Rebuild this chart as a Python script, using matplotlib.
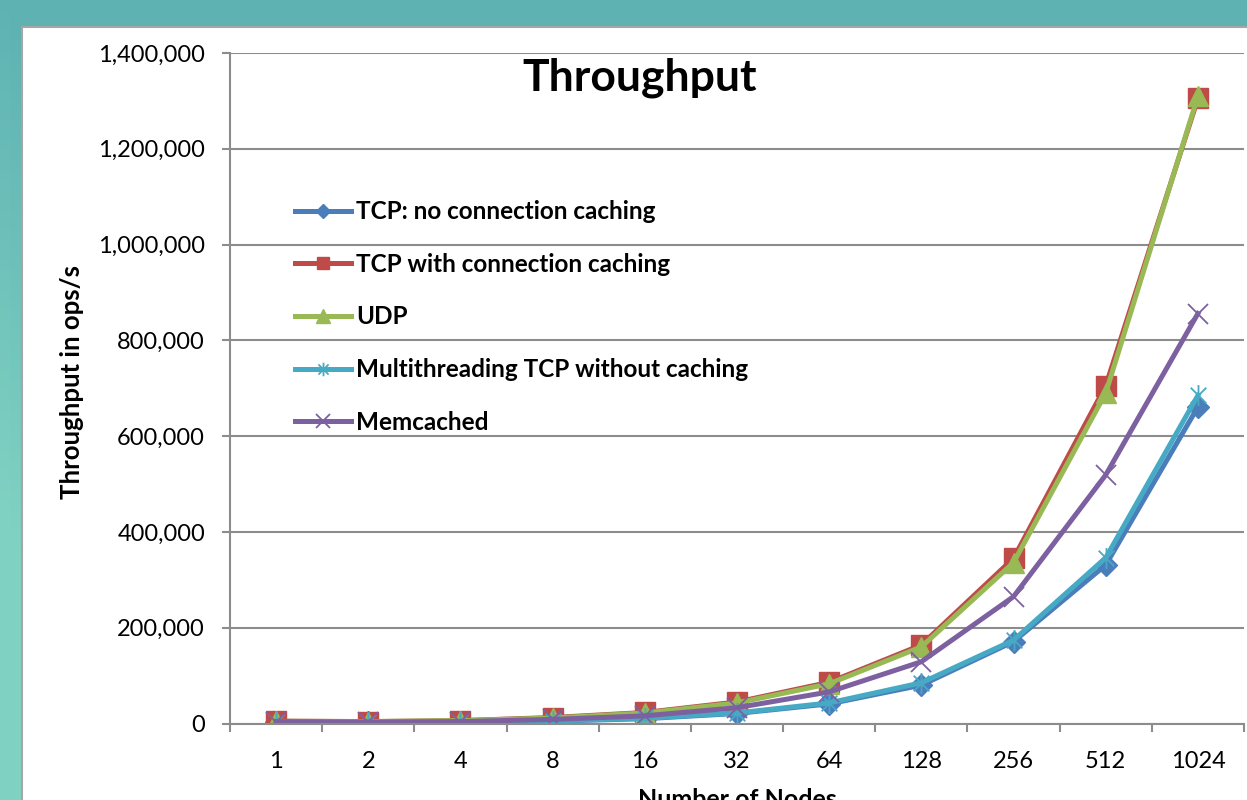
import numpy as np
import matplotlib.pyplot as plt
from matplotlib.path import Path
from matplotlib.patches import Rectangle

plt.rcParams["font.family"] = ["Lato", "DejaVu Sans"]

# Throughput per cluster size (ops/s)
nodes = ["1", "2", "4", "8", "16", "32", "64", "128", "256", "512", "1024"]
tcp_no_cache = [3000, 2500, 3000, 5000, 10000, 21000, 41000, 80000, 171000, 331000, 661000]
tcp_cache = [5000, 4000, 6000, 12500, 23000, 45000, 86000, 164000, 345000, 705000, 1305000]
udp = [4500, 4000, 6000, 11500, 22000, 43000, 83000, 160000, 336000, 690000, 1310000]
mt_tcp = [3500, 2500, 3000, 5500, 11000, 22000, 43000, 85000, 174000, 346000, 685000]
memcached = [4000, 3000, 4000, 8500, 16000, 33000, 66000, 129000, 265000, 519000, 856000]

labels = ["TCP: no connection caching", "TCP with connection caching", "UDP",
          "Multithreading TCP without caching", "Memcached"]

# asterisk: vertical bar plus an X
star = Path([(0, -1), (0, 1), (-0.75, -0.75), (0.75, 0.75), (-0.75, 0.75), (0.75, -0.75)],
            [Path.MOVETO, Path.LINETO, Path.MOVETO, Path.LINETO, Path.MOVETO, Path.LINETO])

fig = plt.figure(figsize=(12.47, 8.0), dpi=100)

# teal slide background
bg = fig.add_axes([0, 0, 1, 1], zorder=-10)
yy, xx = np.mgrid[0:80, 0:125]
base = np.array([0.37, 0.70, 0.70])
light = np.array([0.50, 0.82, 0.76])
w = np.clip((yy / 80.0) * 1.6 - (xx / 125.0) * 6, 0, 1)[..., None]
bg.imshow(base * (1 - w) + light * w, aspect="auto", extent=[0, 1, 0, 1], origin="upper")
bg.set_axis_off()

# white chart panel
fig.patches.append(Rectangle((22 / 1247, -0.01), 1.0, 1 - 27 / 800 + 0.01,
                             transform=fig.transFigure, facecolor="white",
                             edgecolor="#a6a6a6", linewidth=1.5, zorder=-5))

ax = fig.add_axes([230 / 1247, 1 - 723.5 / 800, 1014 / 1247, 670.5 / 800])
ax.set_facecolor("none")
x = np.arange(len(nodes))

ax.plot(x, tcp_no_cache, color="#4a7ebb", lw=3.6, marker="D", ms=11,
        mfc="#4a7ebb", mec="#4a7ebb", label=labels[0])
ax.plot(x, tcp_cache, color="#be4b48", lw=3.6, marker="s", ms=14,
        mfc="#be4b48", mec="#be4b48", label=labels[1])
ax.plot(x, udp, color="#98b954", lw=3.6, marker="^", ms=15,
        mfc="#98b954", mec="#98b954", label=labels[2])
ax.plot(x, mt_tcp, color="#46aac5", lw=3.6, marker=star, ms=15,
        mew=1.3, mec="#46aac5", label=labels[3])
ax.plot(x, memcached, color="#7d60a0", lw=3.6, marker="x", ms=15,
        mew=1.3, mec="#7d60a0", label=labels[4])

ax.set_xlim(-0.5, len(nodes) - 0.5)
ax.set_ylim(0, 1400000)
ax.set_yticks(np.arange(0, 1400001, 200000))
ax.yaxis.set_major_formatter(plt.FuncFormatter(lambda v, p: f"{int(v):,}"))
ax.set_xticks(x)
ax.set_xticklabels(nodes)
ax.set_xticks(np.arange(-0.5, len(nodes)), minor=True)

ax.grid(axis="y", color="#8c8c8c", linewidth=1.5, zorder=0)
ax.set_axisbelow(True)
for side in ["top", "right"]:
    ax.spines[side].set_visible(False)
for side in ["left", "bottom"]:
    ax.spines[side].set_color("#8c8c8c")
    ax.spines[side].set_linewidth(1.5)

ax.tick_params(axis="y", length=6, width=1.5, color="#8c8c8c", pad=12, labelsize=17)
ax.tick_params(axis="x", which="major", length=0, pad=20, labelsize=17)
ax.tick_params(axis="x", which="minor", length=6, width=1.5, color="#8c8c8c")

leg = ax.legend(loc="upper left", bbox_to_anchor=(0.055, 0.795), frameon=False,
                prop={"weight": "bold", "size": 17.5}, handlelength=2.3,
                handletextpad=0.2, labelspacing=1.22, markerscale=0.65,
                borderaxespad=0)

fig.text(640 / 1247, 1 - 78 / 800, "Throughput", ha="center", va="center",
         fontsize=32, fontweight="bold")
fig.text(72 / 1247, 1 - 382 / 800, "Throughput in ops/s", ha="center", va="center",
         rotation=90, fontsize=18.5, fontweight="bold")
fig.text(737 / 1247, 1 - 788 / 800, "Number of Nodes", ha="center", va="top",
         fontsize=18, fontweight="bold")

fig.savefig("out.png", dpi=100)
